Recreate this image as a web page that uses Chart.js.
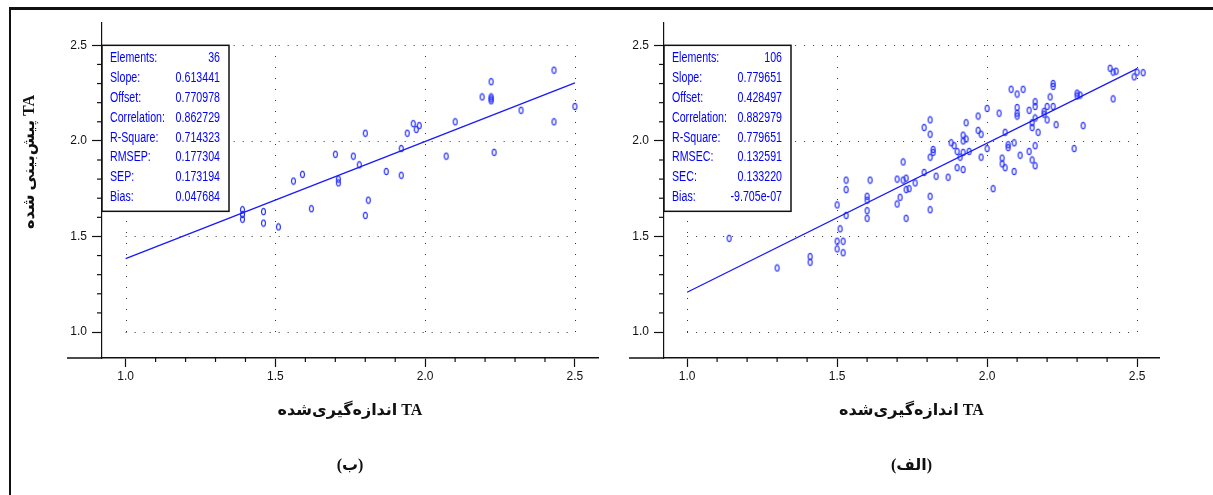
<!DOCTYPE html>
<html>
<head>
<meta charset="utf-8">
<script src="https://cdn.jsdelivr.net/npm/chart.js@4.4.1/dist/chart.umd.min.js"></script>
<style>
    body { margin: 0; background: #fff; width: 1213px; height: 495px; overflow: hidden; position: relative; }
    #frame { position: absolute; left: 9px; top: 7px; width: 1204px; height: 488px; border-top: 3px solid #111; border-left: 2px solid #111; }
    #chartB { position: absolute; left: 11px; top: 10px; }
    #chartA { position: absolute; left: 605px; top: 10px; }
</style>
</head>
<body>
<div id="frame"></div>
<canvas id="chartB" width="594" height="485"></canvas>
<canvas id="chartA" width="608" height="485"></canvas>
<script>
const majorTicks = [1.0, 1.5, 2.0, 2.5];
const minorStep = 0.1;

// (ب) - 36 samples
const measuredB = [
    2.43, 2.22, 2.19, 2.22, 2.22, 2.22, 2.50, 2.32, 2.43, 2.10,
    1.96, 1.98, 1.97, 1.94, 1.80, 1.92, 2.07, 2.23, 1.70, 1.76,
    1.78, 1.59, 1.87, 1.92, 1.71, 1.71, 1.81, 1.62, 1.80, 1.56,
    1.39, 1.39, 1.39, 1.46, 1.46, 1.51
];
const predictedB = [
    2.37, 2.31, 2.23, 2.23, 2.22, 2.21, 2.18, 2.16, 2.10, 2.10,
    2.09, 2.08, 2.06, 2.04, 2.04, 1.96, 1.92, 1.94, 1.93, 1.92,
    1.875, 1.825, 1.84, 1.82, 1.80, 1.78, 1.69, 1.645, 1.61, 1.79,
    1.64, 1.615, 1.59, 1.63, 1.57, 1.55
];
const fitXB = [1.0, 2.5];
const fitYB = [1.384, 2.304];
const statNamesB = ['Elements:', 'Slope:', 'Offset:', 'Correlation:', 'R-Square:', 'RMSEP:', 'SEP:', 'Bias:'];
const statValuesB = ['36', '0.613441', '0.770978', '0.862729', '0.714323', '0.177304', '0.173194', '0.047684'];

// (الف) - 106 samples
const measuredA = [
    2.41, 2.42, 2.43, 2.50, 2.49, 2.52, 2.42, 2.30, 2.31, 2.30,
    2.32, 2.22, 2.22, 2.21, 2.20, 2.22, 2.19, 2.19, 2.20, 2.23,
    2.16, 2.16, 2.14, 2.16, 2.15, 2.15, 2.17, 2.08, 2.10, 2.12,
    2.10, 2.10, 2.10, 2.04, 2.00, 2.06, 2.09, 2.07, 2.07, 2.16,
    2.11, 2.14, 2.15, 2.16, 2.05, 2.05, 2.06, 2.09, 2.02, 2.29,
    2.00, 1.98, 1.97, 1.97, 1.98, 1.93, 1.92, 1.93, 1.92, 1.88,
    1.89, 1.90, 1.92, 1.94, 1.91, 1.90, 1.92, 1.87, 1.81, 1.79,
    1.81, 1.82, 1.82, 1.81, 1.79, 1.83, 1.81, 1.81, 1.72, 1.70,
    1.72, 1.73, 1.73, 1.74, 1.76, 1.71, 1.70, 1.73, 1.61, 1.60,
    1.60, 1.60, 1.60, 1.53, 1.53, 1.50, 1.14, 1.30, 1.41, 1.41,
    1.50, 1.50, 1.51, 1.52, 1.52, 1.53
];
const predictedA = [
    2.38, 2.36, 2.365, 2.36, 2.335, 2.357, 2.22, 2.25, 2.24, 2.235,
    2.08, 2.30, 2.285, 2.23, 2.18, 2.18, 2.155, 2.14, 2.11, 2.085,
    2.205, 2.18, 2.16, 2.12, 2.095, 2.07, 2.045, 2.27, 2.245, 2.27,
    2.175, 2.145, 2.13, 2.145, 2.17, 2.045, 1.99, 1.98, 1.965, 1.975,
    1.925, 1.945, 1.90, 1.87, 1.91, 1.88, 1.86, 1.84, 1.75, 1.96,
    1.96, 1.915, 2.13, 2.055, 2.035, 2.095, 2.03, 2.01, 2.00, 1.99,
    1.975, 1.945, 1.94, 1.945, 1.915, 1.86, 1.85, 1.81, 2.11, 2.07,
    2.035, 1.955, 1.94, 1.915, 1.835, 1.815, 1.71, 1.64, 1.89, 1.80,
    1.795, 1.805, 1.745, 1.75, 1.78, 1.705, 1.67, 1.595, 1.795, 1.71,
    1.69, 1.635, 1.595, 1.795, 1.745, 1.665, 1.49, 1.335, 1.395, 1.365,
    1.475, 1.435, 1.54, 1.475, 1.415, 1.61
];
const fitXA = [1.0, 2.5];
const fitYA = [1.208, 2.378];
const statNamesA = ['Elements:', 'Slope:', 'Offset:', 'Correlation:', 'R-Square:', 'RMSEC:', 'SEC:', 'Bias:'];
const statValuesA = ['106', '0.779651', '0.428497', '0.882979', '0.779651', '0.132591', '0.133220', '-9.705e-07'];

const xTitle = 'TA اندازه‌گیری‌شده';
const yTitle = 'TA پیش‌بینی شده';

const BLUE = 'rgb(25,25,250)';
const SANS = "'Liberation Sans', Arial, sans-serif";
const SERIF = "'Liberation Serif', 'DejaVu Sans', serif";
const NARROW = 0.76; // horizontal squeeze to mimic a narrow face

// small "o" shaped marker like the original plot
function ringMarker() {
    const c = document.createElement('canvas');
    c.width = 7;
    c.height = 9;
    const g = c.getContext('2d');
    g.strokeStyle = 'rgb(40,50,255)';
    g.lineWidth = 1.2;
    g.beginPath();
    g.ellipse(3.5, 4.5, 2.0, 3.1, 0, 0, Math.PI * 2);
    g.stroke();
    return c;
}
const marker = ringMarker();

function isMajor(v) {
    return majorTicks.some(m => Math.abs(m - v) < 1e-6);
}

function buildTicks(scale) {
    const first = majorTicks[0];
    const last = majorTicks[majorTicks.length - 1];
    const ticks = [];
    for (let v = first; v <= last + 1e-9; v += minorStep) ticks.push({ value: +v.toFixed(2) });
    scale.ticks = ticks;
}

function axis(min, max, size, horizontal) {
    return {
        type: 'linear',
        min: min,
        max: max,
        afterBuildTicks: buildTicks,
        afterFit: s => { if (horizontal) s.height = size; else s.width = size; },
        border: { display: true, color: '#111', width: horizontal ? 1.6 : 1.2 },
        grid: {
            drawOnChartArea: false,
            drawTicks: true,
            tickLength: horizontal ? 9 : 10,
            tickWidth: 1.2,
            tickColor: ctx => isMajor(ctx.tick.value) ? '#111' : 'rgba(0,0,0,0)'
        },
        ticks: {
            autoSkip: false,
            maxRotation: 0,
            padding: horizontal ? 2 : 5,
            color: '#111',
            font: { family: SANS, size: 12 },
            callback: v => isMajor(v) ? v.toFixed(1) : ''
        },
        title: horizontal ? {
            display: true,
            text: '\u202B' + xTitle + '\u202C',
            color: '#111',
            font: { family: SERIF, size: 16, weight: 'bold' },
            padding: { top: 0, bottom: 35 }
        } : { display: false }
    };
}

function framePlugin(names, values, drawYTitle) {
    return {
        id: 'frame',
        beforeDatasetsDraw(chart) {
            const { ctx } = chart;
            const sx = chart.scales.x, sy = chart.scales.y;
            const lo = majorTicks[0], hi = majorTicks[majorTicks.length - 1];
            ctx.save();
            ctx.strokeStyle = '#333';
            ctx.lineWidth = 1;
            ctx.setLineDash([1, 8]);
            majorTicks.forEach(v => {
                const py = Math.round(sy.getPixelForValue(v)) + 0.5;
                ctx.beginPath();
                ctx.moveTo(sx.getPixelForValue(lo), py);
                ctx.lineTo(sx.getPixelForValue(hi), py);
                ctx.stroke();
            });
            ctx.setLineDash([1, 10]);
            majorTicks.forEach(v => {
                const px = Math.round(sx.getPixelForValue(v)) + 0.5;
                ctx.beginPath();
                ctx.moveTo(px, sy.getPixelForValue(lo));
                ctx.lineTo(px, sy.getPixelForValue(hi));
                ctx.stroke();
            });
            ctx.restore();
        },
        afterDraw(chart) {
            const { ctx, chartArea } = chart;
            const sx = chart.scales.x, sy = chart.scales.y;
            ctx.save();
            // minor ticks
            ctx.strokeStyle = '#111';
            ctx.lineWidth = 1.2;
            sx.ticks.forEach(t => {
                if (isMajor(t.value)) return;
                const px = sx.getPixelForValue(t.value);
                ctx.beginPath();
                ctx.moveTo(px, chartArea.bottom);
                ctx.lineTo(px, chartArea.bottom + 4);
                ctx.stroke();
            });
            sy.ticks.forEach(t => {
                if (isMajor(t.value)) return;
                const py = sy.getPixelForValue(t.value);
                ctx.beginPath();
                ctx.moveTo(chartArea.left - 5, py);
                ctx.lineTo(chartArea.left, py);
                ctx.stroke();
            });
            // x axis line runs a bit past the y axis
            ctx.lineWidth = 1.6;
            ctx.beginPath();
            ctx.moveTo(chartArea.left - 35, chartArea.bottom);
            ctx.lineTo(chartArea.left, chartArea.bottom);
            ctx.stroke();

            // statistics box
            const x0 = chartArea.left;
            const y0 = sy.getPixelForValue(majorTicks[majorTicks.length - 1]);
            ctx.fillStyle = '#fff';
            ctx.fillRect(x0, y0, 127, 166);
            ctx.lineWidth = 1.5;
            ctx.strokeRect(x0, y0, 127, 166);
            ctx.save();
            ctx.scale(NARROW, 1);
            ctx.fillStyle = 'rgb(0,0,255)';
            ctx.font = '14px ' + SANS;
            ctx.textBaseline = 'middle';
            names.forEach((n, i) => {
                const ty = y0 + 13 + i * 19.86;
                ctx.textAlign = 'left';
                ctx.fillText(n, (x0 + 8) / NARROW, ty);
                ctx.textAlign = 'right';
                ctx.fillText(values[i], (x0 + 118) / NARROW, ty);
            });
            ctx.restore();

            if (drawYTitle) {
                ctx.translate(19, 152);
                ctx.rotate(-Math.PI / 2);
                ctx.direction = 'rtl';
                ctx.textAlign = 'center';
                ctx.textBaseline = 'middle';
                ctx.fillStyle = '#111';
                ctx.font = 'bold 16px ' + SERIF;
                ctx.fillText(yTitle, 0, 0);
            }
            ctx.restore();
        }
    };
}

function makeChart(id, xs, ys, fitX, fitY, xMin, xMax, yAxisWidth, rightPad, caption, names, values, drawYTitle) {
    return new Chart(document.getElementById(id), {
        type: 'scatter',
        data: {
            datasets: [{
                type: 'line',
                data: fitX.map((x, i) => ({ x: x, y: fitY[i] })),
                borderColor: BLUE,
                borderWidth: 1.3,
                pointRadius: 0,
                fill: false
            }, {
                data: xs.map((x, i) => ({ x: x, y: ys[i] })),
                pointStyle: marker,
                pointRadius: 4,
                borderColor: BLUE,
                backgroundColor: BLUE
            }]
        },
        options: {
            responsive: false,
            animation: false,
            layout: { padding: { left: 0, right: rightPad, top: 0, bottom: 0 } },
            scales: {
                x: axis(xMin, xMax, 97.8, true),
                y: axis(0.864, 2.621, yAxisWidth, false)
            },
            plugins: {
                legend: { display: false },
                tooltip: { enabled: false },
                title: {
                    display: true,
                    text: caption,
                    position: 'bottom',
                    fullSize: false,
                    color: '#111',
                    font: { family: SERIF, size: 16, weight: 'bold' },
                    padding: { top: 0, bottom: 20 }
                }
            }
        },
        plugins: [framePlugin(names, values, drawYTitle)]
    });
}

makeChart('chartB', measuredB, predictedB, fitXB, fitYB, 0.921, 2.577, 91, 7, '(ب)', statNamesB, statValuesB, true);
makeChart('chartA', measuredA, predictedA, fitXA, fitYA, 0.923, 2.573, 59, 54, '(الف)', statNamesA, statValuesA, false);
</script>
</body>
</html>
